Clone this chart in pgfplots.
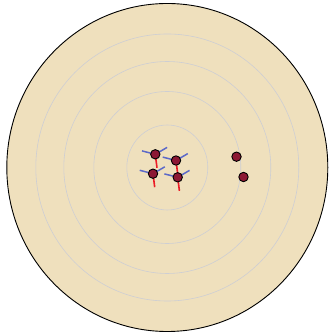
\documentclass[border=0pt]{standalone}
\usepackage{pgfplots}
\pgfplotsset{compat=1.18}
\definecolor{bgbeige}{RGB}{239,224,189}
\definecolor{gridc}{RGB}{205,206,212}
\definecolor{armblue}{RGB}{92,105,200}
\definecolor{stemred}{RGB}{235,28,38}
\definecolor{dotred}{RGB}{140,24,52}
\begin{document}
\begin{tikzpicture}
\begin{axis}[
  x=1pt, y=1pt,
  xmin=-167.3, xmax=159.7,
  ymin=-166.5, ymax=167.5,
  hide axis, clip=false,
  unbounded coords=jump,
]
\path (rel axis cs:0,0) rectangle (rel axis cs:1,1);
\fill[bgbeige] (axis cs:0,0) ellipse [x radius=160.5, y radius=164];
\draw[gridc, line width=0.6pt] (axis cs:0,0) ellipse [x radius=40.5, y radius=42.5];
\draw[gridc, line width=0.6pt] (axis cs:0,0) ellipse [x radius=73.5, y radius=76];
\draw[gridc, line width=0.6pt] (axis cs:0,0) ellipse [x radius=103.5, y radius=106];
\draw[gridc, line width=0.6pt] (axis cs:0,0) ellipse [x radius=131.5, y radius=133.5];
\draw[black, line width=0.9pt] (axis cs:0,0) ellipse [x radius=160.5, y radius=164];
% blue arms
\addplot[armblue, line width=1.5pt, no marks] coordinates {
(-25.3,16.6) (-12,13.2) (-0.2,20.1) (nan,nan)
(-4.6,10.4) (8.7,7) (20.5,13.9) (nan,nan)
(-27.6,-2.8) (-14.3,-6.2) (-2.5,0.7) (nan,nan)
(-2.9,-6.4) (10.4,-9.8) (22.2,-2.9)
};
% red stems
\addplot[stemred, line width=1.6pt, no marks] coordinates {
(-12,13.2) (-10.3,-0.3) (nan,nan)
(8.7,7) (10.4,-6.5) (nan,nan)
(-14.3,-6.2) (-12.6,-19.7) (nan,nan)
(10.4,-9.8) (12.1,-23.3)
};
% points
\addplot[only marks, mark=*, mark size=4.7pt,
  mark options={fill=dotred, draw=black, line width=0.9pt}] coordinates {
(-12,13.2) (8.7,7) (-14.3,-6.2) (10.4,-9.8) (69.2,10.8) (76.2,-9.5)
};
\end{axis}
\end{tikzpicture}
\end{document}
